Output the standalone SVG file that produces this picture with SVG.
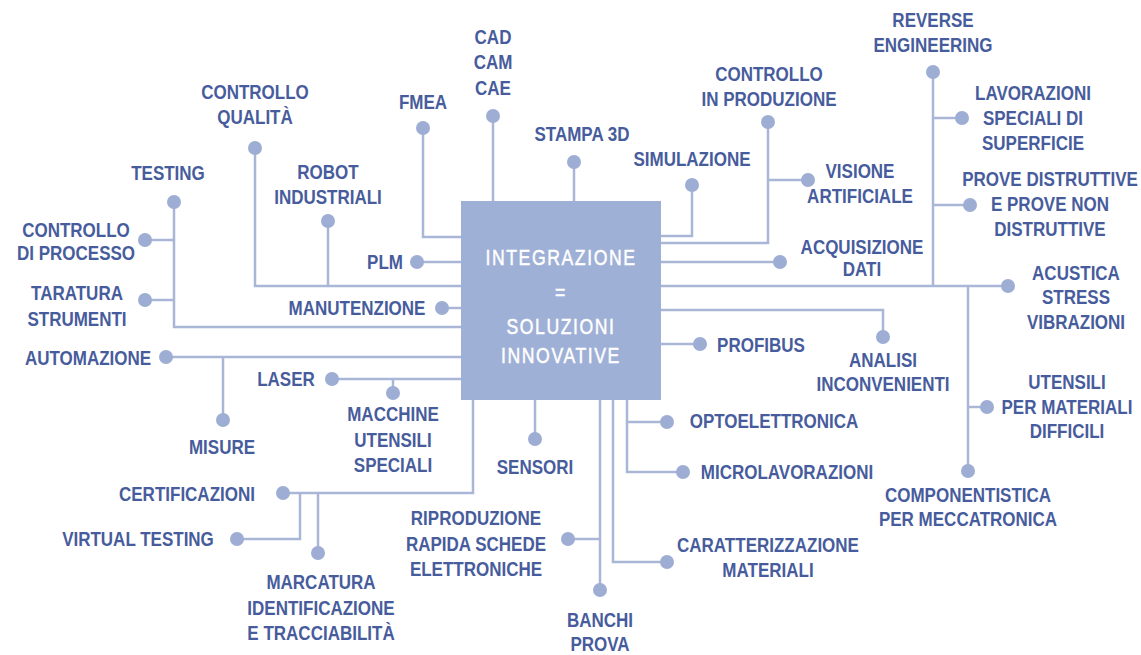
<svg xmlns="http://www.w3.org/2000/svg" width="1141" height="655" viewBox="0 0 1141 655">
<style>
.conn path{fill:none;stroke:#a9b6d6;stroke-width:2.5;stroke-linejoin:miter}
.dot{fill:#9dadd3}
.lbl{font-family:"Liberation Sans",Arial,sans-serif;font-weight:bold;font-size:21px;fill:#475c9c;text-anchor:middle;transform-box:fill-box;transform-origin:center;transform:scaleX(0.81)}
.box{fill:#9fb0d6}
.btxt{font-family:"Liberation Sans",Arial,sans-serif;font-size:22px;fill:#ffffff;stroke:#ffffff;stroke-width:0.5;letter-spacing:2px;text-anchor:middle;transform-box:fill-box;transform-origin:center;transform:scaleX(0.8)}
</style>
<rect width="1141" height="655" fill="#ffffff"/>
<g id="connectors" class="conn">
<path d="M493,116V201"/>
<path d="M423,128V237H461"/>
<path d="M255,148V286H461"/>
<path d="M328,221V286"/>
<path d="M174,202V327H461"/>
<path d="M145,240H174"/>
<path d="M145,300H174"/>
<path d="M166,357H461"/>
<path d="M223,357V420"/>
<path d="M332,379H461"/>
<path d="M393,379V393"/>
<path d="M417,262H461"/>
<path d="M442,308H461"/>
<path d="M574,162V201"/>
<path d="M692,185V236H661"/>
<path d="M768,122V243H661"/>
<path d="M768,180H808"/>
<path d="M661,262H780"/>
<path d="M933,72V286"/>
<path d="M933,118H962"/>
<path d="M933,205H970"/>
<path d="M661,286H1008"/>
<path d="M968,286V471"/>
<path d="M968,407H987"/>
<path d="M661,310H883V337"/>
<path d="M661,344H700"/>
<path d="M473,400V493H283"/>
<path d="M300,493V539H237"/>
<path d="M318,493V553"/>
<path d="M535,400V439"/>
<path d="M600,400V590"/>
<path d="M600,539H568"/>
<path d="M613,400V562H667"/>
<path d="M627,400V472H683"/>
<path d="M627,422H667"/>
</g>
<g id="center">
<rect class="box" x="461" y="201" width="200" height="199"/>
<text class="btxt"><tspan x="561" y="265">INTEGRAZIONE</tspan><tspan x="561" y="300">=</tspan><tspan x="561" y="334">SOLUZIONI</tspan><tspan x="561" y="363">INNOVATIVE</tspan></text>
</g>
<g id="cad-cam-cae"><circle class="dot" cx="493" cy="116" r="7"/><text class="lbl"><tspan x="493" y="44">CAD</tspan><tspan x="493" y="69">CAM</tspan><tspan x="493" y="95">CAE</tspan></text></g>
<g id="fmea"><circle class="dot" cx="423" cy="128" r="7"/><text class="lbl" x="423" y="109">FMEA</text></g>
<g id="controllo-qualita"><circle class="dot" cx="255" cy="148" r="7"/><text class="lbl"><tspan x="255" y="99">CONTROLLO</tspan><tspan x="255" y="124">QUALITÀ</tspan></text></g>
<g id="testing"><circle class="dot" cx="174" cy="202" r="7"/><text class="lbl" x="168" y="180">TESTING</text></g>
<g id="robot-industriali"><circle class="dot" cx="328" cy="221" r="7"/><text class="lbl"><tspan x="328" y="179">ROBOT</tspan><tspan x="328" y="204">INDUSTRIALI</tspan></text></g>
<g id="controllo-processo"><circle class="dot" cx="145" cy="240" r="7"/><text class="lbl"><tspan x="76" y="237">CONTROLLO</tspan><tspan x="76" y="260">DI PROCESSO</tspan></text></g>
<g id="taratura-strumenti"><circle class="dot" cx="145" cy="300" r="7"/><text class="lbl"><tspan x="77" y="300">TARATURA</tspan><tspan x="77" y="326">STRUMENTI</tspan></text></g>
<g id="automazione"><circle class="dot" cx="166" cy="357" r="7"/><text class="lbl" x="88" y="365">AUTOMAZIONE</text></g>
<g id="misure"><circle class="dot" cx="223" cy="420" r="7"/><text class="lbl" x="222" y="454">MISURE</text></g>
<g id="laser"><circle class="dot" cx="332" cy="379" r="7"/><text class="lbl" x="286" y="386">LASER</text></g>
<g id="macchine-utensili"><circle class="dot" cx="393" cy="393" r="7"/><text class="lbl"><tspan x="393" y="421">MACCHINE</tspan><tspan x="393" y="447">UTENSILI</tspan><tspan x="393" y="472">SPECIALI</tspan></text></g>
<g id="plm"><circle class="dot" cx="417" cy="262" r="7"/><text class="lbl" x="385" y="269">PLM</text></g>
<g id="manutenzione"><circle class="dot" cx="442" cy="308" r="7"/><text class="lbl" x="357" y="315">MANUTENZIONE</text></g>
<g id="stampa-3d"><circle class="dot" cx="574" cy="162" r="7"/><text class="lbl" x="582" y="141">STAMPA 3D</text></g>
<g id="simulazione"><circle class="dot" cx="692" cy="185" r="7"/><text class="lbl" x="692" y="166">SIMULAZIONE</text></g>
<g id="controllo-produzione"><circle class="dot" cx="768" cy="122" r="7"/><text class="lbl"><tspan x="769" y="81">CONTROLLO</tspan><tspan x="769" y="106">IN PRODUZIONE</tspan></text></g>
<g id="visione-artificiale"><circle class="dot" cx="808" cy="180" r="7"/><text class="lbl"><tspan x="860" y="178">VISIONE</tspan><tspan x="860" y="203">ARTIFICIALE</tspan></text></g>
<g id="acquisizione-dati"><circle class="dot" cx="780" cy="262" r="7"/><text class="lbl"><tspan x="862" y="254">ACQUISIZIONE</tspan><tspan x="862" y="276">DATI</tspan></text></g>
<g id="reverse-engineering"><circle class="dot" cx="933" cy="72" r="7"/><text class="lbl"><tspan x="933" y="27">REVERSE</tspan><tspan x="933" y="52">ENGINEERING</tspan></text></g>
<g id="lavorazioni-speciali"><circle class="dot" cx="962" cy="118" r="7"/><text class="lbl"><tspan x="1033" y="100">LAVORAZIONI</tspan><tspan x="1033" y="125">SPECIALI DI</tspan><tspan x="1033" y="150">SUPERFICIE</tspan></text></g>
<g id="prove-distruttive"><circle class="dot" cx="970" cy="205" r="7"/><text class="lbl"><tspan x="1050" y="186">PROVE DISTRUTTIVE</tspan><tspan x="1050" y="211">E PROVE NON</tspan><tspan x="1050" y="236">DISTRUTTIVE</tspan></text></g>
<g id="acustica"><circle class="dot" cx="1008" cy="286" r="7"/><text class="lbl"><tspan x="1076" y="280">ACUSTICA</tspan><tspan x="1076" y="304">STRESS</tspan><tspan x="1076" y="329">VIBRAZIONI</tspan></text></g>
<g id="utensili-materiali"><circle class="dot" cx="987" cy="407" r="7"/><text class="lbl"><tspan x="1067" y="389">UTENSILI</tspan><tspan x="1067" y="414">PER MATERIALI</tspan><tspan x="1067" y="438">DIFFICILI</tspan></text></g>
<g id="componentistica"><circle class="dot" cx="968" cy="471" r="7"/><text class="lbl"><tspan x="968" y="502">COMPONENTISTICA</tspan><tspan x="968" y="526">PER MECCATRONICA</tspan></text></g>
<g id="analisi-inconvenienti"><circle class="dot" cx="883" cy="337" r="7"/><text class="lbl"><tspan x="883" y="367">ANALISI</tspan><tspan x="883" y="391">INCONVENIENTI</tspan></text></g>
<g id="profibus"><circle class="dot" cx="700" cy="344" r="7"/><text class="lbl" x="761" y="352">PROFIBUS</text></g>
<g id="optoelettronica"><circle class="dot" cx="667" cy="422" r="7"/><text class="lbl" x="774" y="428">OPTOELETTRONICA</text></g>
<g id="microlavorazioni"><circle class="dot" cx="683" cy="472" r="7"/><text class="lbl" x="787" y="479">MICROLAVORAZIONI</text></g>
<g id="caratterizzazione"><circle class="dot" cx="667" cy="562" r="7"/><text class="lbl"><tspan x="768" y="552">CARATTERIZZAZIONE</tspan><tspan x="768" y="577">MATERIALI</tspan></text></g>
<g id="banchi-prova"><circle class="dot" cx="600" cy="590" r="7"/><text class="lbl"><tspan x="600" y="627">BANCHI</tspan><tspan x="600" y="651">PROVA</tspan></text></g>
<g id="riproduzione"><circle class="dot" cx="568" cy="539" r="7"/><text class="lbl"><tspan x="476" y="525">RIPRODUZIONE</tspan><tspan x="476" y="551">RAPIDA SCHEDE</tspan><tspan x="476" y="576">ELETTRONICHE</tspan></text></g>
<g id="sensori"><circle class="dot" cx="535" cy="439" r="7"/><text class="lbl" x="535" y="474">SENSORI</text></g>
<g id="certificazioni"><circle class="dot" cx="283" cy="493" r="7"/><text class="lbl" x="187" y="501">CERTIFICAZIONI</text></g>
<g id="virtual-testing"><circle class="dot" cx="237" cy="539" r="7"/><text class="lbl" x="138" y="546">VIRTUAL TESTING</text></g>
<g id="marcatura"><circle class="dot" cx="318" cy="553" r="7"/><text class="lbl"><tspan x="321" y="589">MARCATURA</tspan><tspan x="321" y="615">IDENTIFICAZIONE</tspan><tspan x="321" y="640">E TRACCIABILITÀ</tspan></text></g>
</svg>
